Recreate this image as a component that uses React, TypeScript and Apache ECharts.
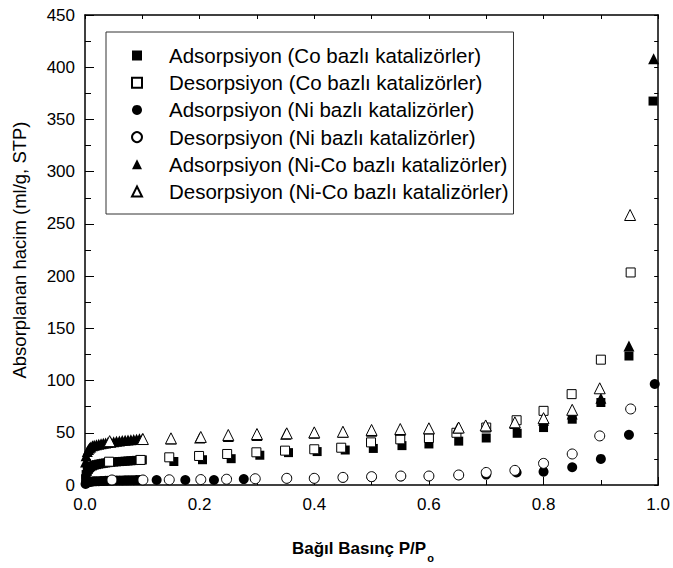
import React, { useEffect, useRef } from "react";
import * as echarts from "echarts";

// ---------- Data (relative pressure P/P0, adsorbed volume ml/g STP) ----------
const seriesNames = [
  "Adsorpsiyon (Co bazlı katalizörler)",
  "Desorpsiyon (Co bazlı katalizörler)",
  "Adsorpsiyon (Ni bazlı katalizörler)",
  "Desorpsiyon (Ni bazlı katalizörler)",
  "Adsorpsiyon (Ni-Co bazlı katalizörler)",
  "Desorpsiyon (Ni-Co bazlı katalizörler)",
];

const lowP = [0.001, 0.002, 0.004, 0.006, 0.008, 0.01, 0.013, 0.016, 0.02, 0.024, 0.028, 0.032, 0.036, 0.04, 0.045, 0.05, 0.055, 0.06, 0.065, 0.07, 0.075, 0.08, 0.085, 0.09, 0.095, 0.1];

const coAdsX = [...lowP, 0.155, 0.205, 0.255, 0.305, 0.355, 0.405, 0.454, 0.503, 0.553, 0.6, 0.652, 0.7, 0.754, 0.8, 0.85, 0.9, 0.949, 0.991];
const coAdsY = [6, 10, 13, 15, 16.5, 17.5, 18.3, 19, 19.5, 20, 20.4, 20.8, 21.1, 21.4, 21.7, 22, 22.2, 22.4, 22.6, 22.8, 23, 23.2, 23.4, 23.6, 23.8, 24,
  22.5, 24.2, 25.2, 28.5, 31, 32, 33.5, 35, 37.7, 39.3, 42, 45, 49.5, 55, 63, 79, 123.5, 367.6];

const coDesX = [0.042, 0.097, 0.147, 0.199, 0.248, 0.299, 0.349, 0.4, 0.447, 0.499, 0.55, 0.6, 0.648, 0.7, 0.753, 0.8, 0.849, 0.9, 0.952];
const coDesY = [22.3, 24, 26.5, 27.8, 29.7, 31.3, 32.9, 34.2, 35.7, 40.8, 43.7, 45, 50, 55, 62, 71, 87, 120, 203.5];

const niAdsX = [...lowP, 0.125, 0.175, 0.225, 0.277, 0.352, 0.4, 0.45, 0.5, 0.551, 0.6, 0.652, 0.7, 0.753, 0.8, 0.85, 0.9, 0.949, 0.994];
const niAdsY = [1, 1.8, 2.3, 2.7, 3, 3.2, 3.4, 3.5, 3.6, 3.7, 3.8, 3.9, 4, 4.1, 4.2, 4.3, 4.3, 4.4, 4.4, 4.5, 4.5, 4.6, 4.6, 4.7, 4.7, 4.8,
  4.8, 4.8, 4.8, 5.7, 6.2, 6.2, 7, 7.6, 8.3, 8.4, 9.3, 10, 12, 12.8, 17, 25, 48, 96.7];

const niDesX = [0.047, 0.101, 0.147, 0.202, 0.247, 0.297, 0.352, 0.4, 0.45, 0.5, 0.551, 0.6, 0.652, 0.7, 0.75, 0.8, 0.85, 0.898, 0.952];
const niDesY = [4.8, 4.8, 5, 5.2, 5.5, 6, 6.4, 6.4, 7.3, 8, 8.6, 8.6, 9.6, 12, 14, 20.7, 29.7, 47, 72.8];

const nicoAdsX = [...lowP, 0.15, 0.2, 0.25, 0.3, 0.35, 0.4, 0.45, 0.5, 0.55, 0.6, 0.65, 0.7, 0.75, 0.8, 0.85, 0.9, 0.949, 0.992];
const nicoAdsY = [22, 28, 32, 34, 35.5, 36.5, 37.5, 38, 38.5, 39, 39.5, 40, 40.3, 40.7, 41, 41.5, 41.8, 42.2, 42.5, 42.8, 43, 43.3, 43.6, 43.9, 44.2, 44.5,
  44, 45, 46.5, 47.5, 48.5, 49.5, 50.5, 51.5, 52.5, 53.5, 54.5, 56.5, 59, 62, 68, 83, 133, 408];

const nicoDesX = [0.043, 0.101, 0.15, 0.202, 0.25, 0.3, 0.352, 0.4, 0.45, 0.5, 0.55, 0.6, 0.652, 0.699, 0.75, 0.8, 0.85, 0.898, 0.951];
const nicoDesY = [42, 44, 44.7, 46, 47.9, 48.8, 49.5, 50.4, 51, 52.7, 53.6, 54.3, 55, 57, 60, 64, 72, 92.6, 258.5];

const xTicks = [0, 0.2, 0.4, 0.6, 0.8, 1.0];
const yTicks = [0, 50, 100, 150, 200, 250, 300, 350, 400, 450];

const zip = (xs: number[], ys: number[]) => xs.map((x, i) => [x, ys[i]]);

const FONT = "'Liberation Sans', Arial, sans-serif";
const NARROW = "'Liberation Sans Narrow', 'Liberation Sans', Arial, sans-serif";

export default function App() {
  const ref = useRef<HTMLDivElement>(null);
  useEffect(() => {
    if (!ref.current) return;
    const chart = echarts.init(ref.current, null, { renderer: "svg" });

    const filled = { color: "#000", borderColor: "#000", borderWidth: 0, opacity: 1 };
    const open = { color: "#fff", borderColor: "#000", borderWidth: 1, opacity: 1 };

    const mk = (name: string, data: number[][], symbol: string, size: number, style: any) => ({
      name,
      type: "scatter",
      data,
      symbol,
      symbolSize: size,
      itemStyle: style,
      xAxisIndex: 0,
      yAxisIndex: 0,
      emphasis: { disabled: true },
    });

    const minor = { show: true, splitNumber: 2, length: 5, lineStyle: { color: "#000", width: 1 } };

    chart.setOption({
      animation: false,
      backgroundColor: "#fff",
      grid: { left: 85, right: 10, top: 15, bottom: 83, containLabel: false },
      legend: {
        orient: "vertical",
        left: 106,
        top: 32,
        data: seriesNames,
        itemWidth: 10,
        itemHeight: 10,
        itemGap: 6.2,
        padding: [13, 5, 12, 25],
        borderColor: "#333",
        borderWidth: 1,
        selectedMode: false,
        textStyle: {
          fontFamily: FONT,
          fontSize: 20.5,
          color: "#000",
          lineHeight: 20,
          padding: [0, 0, 0, 22],
        },
      },
      xAxis: [
        {
          type: "value",
          min: 0,
          max: 1,
          interval: 0.2,
          position: "bottom",
          axisLine: { show: true, onZero: false, lineStyle: { color: "#000", width: 1.5 } },
          axisTick: { show: true, inside: true, length: 8, lineStyle: { color: "#000", width: 1 } },
          minorTick: minor,
          splitLine: { show: false },
          axisLabel: {
            color: "#000",
            fontFamily: FONT,
            fontSize: 17,
            margin: 11,
            formatter: (v: number) => (xTicks.includes(Math.round(v * 10) / 10) ? v.toFixed(1) : ""),
          },
        },
        {
          type: "value",
          min: 0,
          max: 1,
          interval: 0.1,
          position: "top",
          axisLine: { show: true, onZero: false, lineStyle: { color: "#000", width: 1.5 } },
          axisTick: { show: true, inside: true, length: 4, lineStyle: { color: "#000", width: 1 } },
          splitLine: { show: false },
          axisLabel: { show: false },
        },
      ],
      yAxis: [
        {
          type: "value",
          min: 0,
          max: 450,
          interval: 50,
          position: "left",
          name: "Absorplanan hacim (ml/g, STP)",
          nameLocation: "middle",
          nameGap: 56,
          nameTextStyle: { fontFamily: FONT, fontSize: 18.5, color: "#000" },
          axisLine: { show: true, onZero: false, lineStyle: { color: "#000", width: 1.5 } },
          axisTick: { show: true, inside: true, length: 9, lineStyle: { color: "#000", width: 1 } },
          minorTick: { ...minor, length: 6 },
          splitLine: { show: false },
          axisLabel: {
            color: "#000",
            fontFamily: FONT,
            fontSize: 17,
            margin: 10,
            formatter: (v: number) => (yTicks.includes(v) ? String(v) : ""),
          },
        },
        {
          type: "value",
          min: 0,
          max: 450,
          interval: 25,
          position: "right",
          axisLine: { show: true, onZero: false, lineStyle: { color: "#000", width: 1.5 } },
          axisTick: { show: true, inside: true, length: 4, lineStyle: { color: "#000", width: 1 } },
          splitLine: { show: false },
          axisLabel: { show: false },
        },
      ],
      graphic: [
        {
          type: "text",
          left: 292,
          top: 540,
          style: {
            text: "{a|Bağıl Basınç P/P}{b|o}",
            rich: {
              a: { fontFamily: NARROW, fontWeight: "bold", fontSize: 17, fill: "#000" },
              b: { fontFamily: NARROW, fontWeight: "bold", fontSize: 11, fill: "#000", padding: [18, 0, 0, 1] },
            },
          },
        },
      ],
      series: [
        mk(seriesNames[0], zip(coAdsX, coAdsY), "rect", 9, filled),
        mk(seriesNames[1], zip(coDesX, coDesY), "rect", 9, open),
        mk(seriesNames[2], zip(niAdsX, niAdsY), "circle", 10, filled),
        mk(seriesNames[3], zip(niDesX, niDesY), "circle", 10, open),
        mk(seriesNames[4], zip(nicoAdsX, nicoAdsY), "triangle", 11, filled),
        mk(seriesNames[5], zip(nicoDesX, nicoDesY), "triangle", 11, open),
      ],
    });
    return () => chart.dispose();
  }, []);

  return (
    <div
      ref={ref}
      style={{ position: "fixed", left: 0, top: 0, width: 673, height: 568, background: "#fff" }}
    />
  );
}
